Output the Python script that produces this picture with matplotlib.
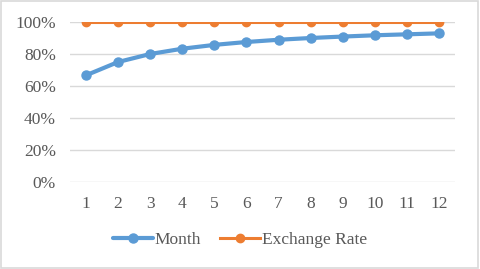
import matplotlib.pyplot as plt
from matplotlib.ticker import PercentFormatter

months = [1, 2, 3, 4, 5, 6, 7, 8, 9, 10, 11, 12]
month_share = [0.667, 0.750, 0.800, 0.833, 0.857, 0.875, 0.889, 0.900, 0.909, 0.917, 0.923, 0.929]
exchange_rate = [1.0, 1.0, 1.0, 1.0, 1.0, 1.0, 1.0, 1.0, 1.0, 1.0, 1.0, 1.0]


def main():
    plt.rcParams['font.family'] = ['Liberation Serif', 'DejaVu Serif']
    txt = '#595959'
    fig = plt.figure(figsize=(4.8, 2.69), dpi=100)
    ax = fig.add_axes([70 / 480, 1 - 182 / 269, (455 - 70) / 480, 160 / 269])

    ax.plot(months, month_share, color='#5B9BD5', lw=3.0, marker='o', ms=6.5,
            label='Month', zorder=3, solid_capstyle='round')
    ax.plot(months, exchange_rate, color='#ED7D31', lw=2.2, marker='o', ms=6,
            label='Exchange Rate', zorder=3)

    ax.set_xlim(0.5, 12.5)
    ax.set_ylim(0, 1.0)
    ax.set_xticks(months)
    ax.set_yticks([0, 0.2, 0.4, 0.6, 0.8, 1.0])
    ax.yaxis.set_major_formatter(PercentFormatter(1.0, decimals=0))
    ax.grid(axis='y', color='#D9D9D9', lw=1)
    ax.set_axisbelow(True)
    for s in ax.spines.values():
        s.set_visible(False)
    ax.tick_params(length=0, labelsize=12.5, labelcolor=txt)
    ax.tick_params(axis='x', pad=10)
    ax.tick_params(axis='y', pad=10)

    fig.legend(loc='center', bbox_to_anchor=(0.5, 1 - 240 / 269), ncol=2, frameon=False,
               fontsize=12.5, labelcolor=txt, handlelength=2.3, handletextpad=0.1,
               columnspacing=1.1)

    # outer border like the Excel chart frame
    fig.patches.append(plt.Rectangle((0.003, 0.005), 0.992, 0.99, transform=fig.transFigure,
                                     fill=False, edgecolor='#D9D9D9', lw=1.2))

    fig.savefig('out.png', dpi=100)


if __name__ == '__main__':
    main()
